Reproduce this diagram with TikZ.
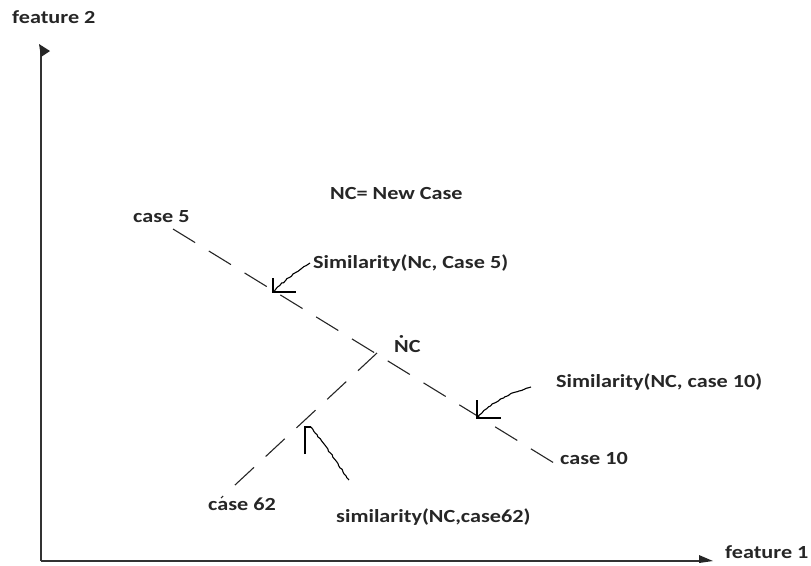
\documentclass[tikz,border=0pt]{standalone}
\usepackage{fontspec}
\setmainfont{Carlito}[FakeStretch=1.2]
\usetikzlibrary{decorations.pathmorphing}
\begin{document}
\begin{tikzpicture}[x=1pt,y=-1pt,
  lbl/.style={anchor=base west,inner sep=0pt,font=\fontsize{18.5}{20}\selectfont\bfseries,text=black!85},
  axis/.style={line width=1.6pt,black!80},
  dline/.style={line width=1.1pt,dash pattern=on 26pt off 16pt,black!85},
  hand/.style={line width=1.1pt,black,decorate,decoration={random steps,segment length=2.5pt,amplitude=0.6pt}},
  plain/.style={line width=1.1pt,black}]
\useasboundingbox (0,0) rectangle (811,565);
% axes
\coordinate (O) at (41,561);
\coordinate (Ytop) at (41,46);
\coordinate (Xend) at (704,561);
\draw[axis] (O) -- (Ytop);
\draw[axis] (O) -- (Xend);
\fill[black!85] (39,44) -- (50,51) -- (41,57) -- cycle;
\fill[black!85] (699,555) -- (713,561) -- (699,563) -- cycle;
\node[lbl] (f2) at (12,23) {feature 2};
\node[lbl] (f1) at (725,558) {feature 1};
% legend
\node[lbl] (legend) at (330,199) {NC= New Case};
% case points
\coordinate (c5) at (173,229);
\coordinate (c10) at (554,463);
\coordinate (nc) at (377,353);
\coordinate (c62) at (221,498);
\node[lbl] (case5) at (133,222) {case 5};
\node[lbl] (case10) at (560,464) {case 10};
\node[lbl] (case62) at (208,510) {case 62};
\node[lbl] (ncl) at (394,352) {\accent"02D9 NC};
\draw[dline] (c5) -- (c10);
\draw[dline] (nc) -- (c62);
% similarity labels
\node[lbl] (s5) at (313,268) {Similarity(Nc, Case 5)};
\node[lbl] (s10) at (556,387) {Similarity(NC, case 10)};
\node[lbl] (s62) at (336,522) {similarity(NC,case62)};
% hand-drawn arrows
\coordinate (t5) at (273,292);
\coordinate (w5) at (310,263);
\draw[hand] (w5) .. controls (295,272) and (285,280) .. (t5);
\draw[plain] (273,278) -- (t5) -- (296,292);
\coordinate (t10) at (477,418);
\coordinate (w10) at (531,387);
\draw[hand] (w10) .. controls (500,396) and (490,405) .. (t10);
\draw[plain] (477,400) -- (t10) -- (501,418);
\coordinate (t62) at (307,427);
\coordinate (w62) at (349,480);
\draw[hand] (311,427) .. controls (325,445) and (335,460) .. (w62);
\draw[plain] (305,454) -- (305,427) -- (311,427);
\end{tikzpicture}
\end{document}
